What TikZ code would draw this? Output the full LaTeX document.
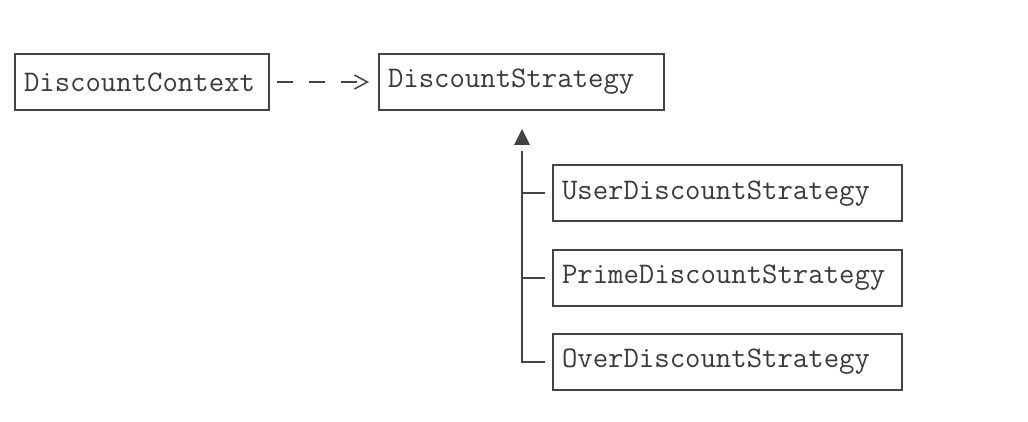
\documentclass[tikz,border=0pt]{standalone}
\usepackage{fontspec}
\usetikzlibrary{arrows.meta}
\definecolor{linecol}{HTML}{444444}
\definecolor{txtcol}{HTML}{3A3A3A}
\tikzset{
  box/.style={draw=linecol, line width=2pt, rectangle, minimum height=56pt,
    inner xsep=9pt, inner ysep=0pt, align=left, text=txtcol,
    font=\ttfamily\fontsize{29.9}{34}\selectfont},
  conn/.style={draw=linecol, line width=2pt},
}
\begin{document}
\begin{tikzpicture}[x=1pt,y=-1pt]
\useasboundingbox (0,0) rectangle (1028,422);
\node[box, minimum width=254pt, text width=236pt] (ctx) at (142,82) {DiscountContext};
\node[box, minimum width=285pt, text width=267pt] (strat) at (521.5,82) {DiscountStrategy};
\node[box, minimum width=349pt, text width=331pt] (user) at (727.5,193.5) {UserDiscountStrategy};
\node[box, minimum width=349pt, text width=331pt] (prime) at (727.5,277.5) {PrimeDiscountStrategy};
\node[box, minimum width=349pt, text width=331pt] (over) at (727.5,361.5) {OverDiscountStrategy};
% dependency arrow
\draw[conn, dash pattern=on 16pt off 16pt, shorten <=7pt, shorten >=9pt,
  -{Straight Barb[length=13pt,width=14pt,line width=1.5pt]}] (ctx.east) -- (strat.west);
% inheritance
\coordinate (tip) at (522,129);
\coordinate (hubtop) at (522,151);
\fill[linecol] (tip) -- ++(-8,16) -- ++(16,0) -- cycle;
\draw[conn, shorten >=7pt] (hubtop) |- (over.west);
\draw[conn, shorten >=7pt] (user.west -| hubtop) -- (user.west);
\draw[conn, shorten >=7pt] (prime.west -| hubtop) -- (prime.west);
\end{tikzpicture}
\end{document}
